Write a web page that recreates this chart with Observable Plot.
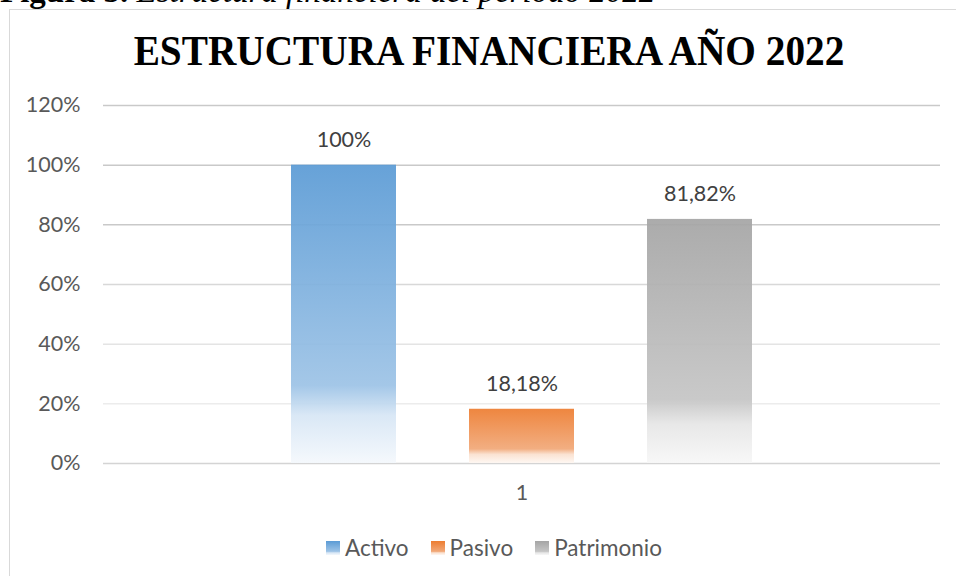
<!DOCTYPE html>
<html>
<head>
<meta charset="utf-8">
<script src="https://cdn.jsdelivr.net/npm/d3@7"></script>
<script src="https://cdn.jsdelivr.net/npm/@observablehq/plot@0.6"></script>
<style>
  html, body { margin: 0; padding: 0; background: #fff; width: 956px; height: 576px; overflow: hidden; position: relative; }
  #caption { position: absolute; left: 0; top: -25px; font-family: "Liberation Serif", serif; font-size: 33px; line-height: 33px; white-space: nowrap; color: #000; }
  #caption b { font-weight: bold; }
  #caption i { font-style: italic; }
  #frame { position: absolute; left: 9px; top: 9px; width: 1000px; height: 700px; border: 1.5px solid #d9d9d9; box-sizing: border-box; }
  #title { position: absolute; left: 0; width: 978px; top: 31px; text-align: center; font-family: "Liberation Serif", serif; font-weight: bold; font-size: 39.3px; line-height: 40px; color: #000; white-space: nowrap; transform: scaleY(1.07); }
  #chart { position: absolute; left: 0; top: 0; }
  #legend { position: absolute; left: 0; width: 988px; top: 534px; display: flex; justify-content: center; gap: 22px; font-family: Lato, sans-serif; font-size: 22.5px; color: #595959; }
  #legend .item { display: flex; align-items: center; gap: 5px; }
  #legend .sw { width: 14px; height: 14px; }
</style>
</head>
<body>
<div id="caption"><b>Figura 5.</b> <i>Estructura financiera del período 2022</i></div>
<div id="frame"></div>
<div id="chart"></div>
<div id="title">ESTRUCTURA FINANCIERA AÑO 2022</div>
<div id="legend"></div>
<script>
// ---- data ----
const categories = ["Activo", "Pasivo", "Patrimonio"];
const values = [1.0, 0.1818, 0.8182];
const groups = ["1"];
const yTicks = [0, 0.2, 0.4, 0.6, 0.8, 1.0, 1.2];

// ---- styles ----
const gradStops = {
  Activo:     [[0, "#5B9BD5"], [0.74, "#9DC3E6"], [0.84, "#D7E6F5"], [1, "#F4F8FC"]],
  Pasivo:     [[0, "#ED7D31"], [0.74, "#F1A878"], [0.84, "#FAE0CE"], [1, "#FEF7F2"]],
  Patrimonio: [[0, "#A5A5A5"], [0.74, "#C5C5C5"], [0.84, "#E6E6E6"], [1, "#F7F7F7"]]
};
const gridStroke = v => v === 0 ? "#d4d4d4" : v >= 0.8 ? "#c9c9c9" : v >= 0.6 ? "#d8d8d8" : v >= 0.4 ? "#e4e4e4" : "#ececec";

const table = categories.map((c, i) => ({ group: groups[0], category: c, value: values[i] }));
const gradId = c => "grad-" + categories.indexOf(c);

const locale = d3.formatLocale({ decimal: ",", thousands: ".", grouping: [3], currency: ["", ""] });
const pctLabel = locale.format(".2~%");
const pctTick = locale.format(".0%");

const chart = Plot.plot({
  width: 956,
  height: 510,
  marginLeft: 103,
  marginRight: 16,
  marginTop: 105,
  marginBottom: 47,
  style: { fontFamily: "Lato, sans-serif", fontSize: "21.5px", color: "#595959", background: "transparent", overflow: "visible" },
  fx: { domain: groups, padding: 0, axis: "bottom", tickSize: 0, tickPadding: 21, label: null },
  x: { domain: categories, paddingInner: 0.408, paddingOuter: 1.042, axis: null },
  y: { domain: [0, 1.2], ticks: yTicks, tickFormat: pctTick, tickSize: 0, tickPadding: 23, label: null },
  color: { type: "identity" },
  marks: [
    Plot.ruleY(yTicks, { y: d => d, stroke: d => gridStroke(d), strokeWidth: 1.5 }),
    Plot.barY(table, { fx: "group", x: "category", y: "value", fill: d => `url(#${gradId(d.category)})`, fillOpacity: 0.93 }),
    Plot.text(table, { fx: "group", x: "category", y: "value", text: d => pctLabel(d.value), dy: -25, fill: "#404040", fontSize: 21.5 })
  ]
});

const svg = d3.select(chart);
const defs = svg.insert("defs", ":first-child");
categories.forEach(c => {
  const g = defs.append("linearGradient").attr("id", gradId(c)).attr("x1", 0).attr("y1", 0).attr("x2", 0).attr("y2", 1);
  gradStops[c].forEach(([o, col]) => g.append("stop").attr("offset", o).attr("stop-color", col));
});
document.getElementById("chart").appendChild(chart);

// legend
const legend = d3.select("#legend");
categories.forEach(c => {
  const it = legend.append("div").attr("class", "item");
  it.append("div").attr("class", "sw").style("background", `linear-gradient(to bottom, ${gradStops[c].map(([o, col]) => col + " " + (o * 100) + "%").join(", ")})`);
  it.append("span").text(c);
});
</script>
</body>
</html>
